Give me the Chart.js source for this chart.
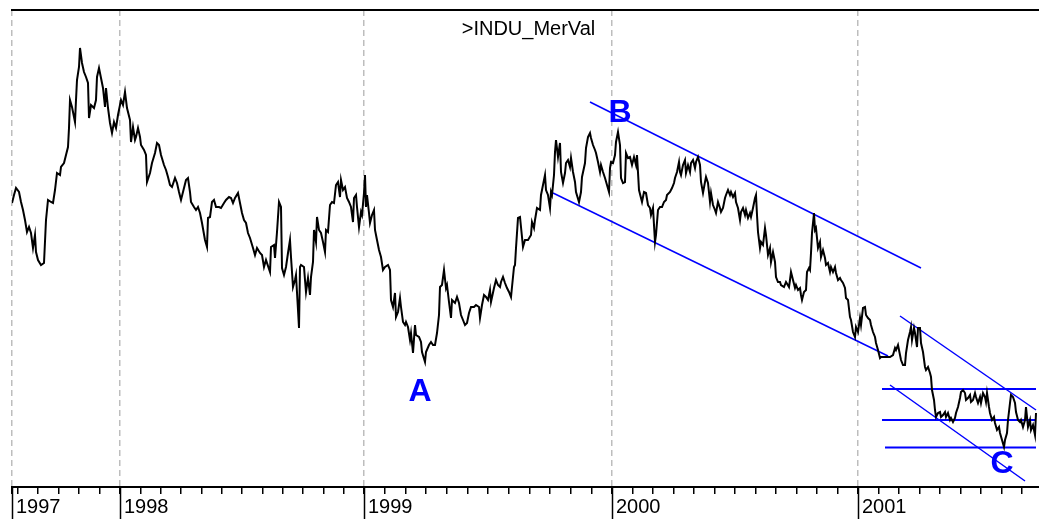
<!DOCTYPE html>
<html>
<head>
<meta charset="utf-8">
<title>INDU / MerVal</title>
<script src="https://cdn.jsdelivr.net/npm/chart.js@4.4.1/dist/chart.umd.min.js"></script>
<style>
  html, body { margin: 0; padding: 0; background: #fff; }
  canvas { display: block; }
</style>
</head>
<body>
<canvas id="ratioChart" width="1039" height="519"></canvas>
<script>
// INDU / MerVal ratio, one point per trading session (session 0 = first bar in 1997)
const chartTitle = '>INDU_MerVal';

const sessions = [
  0, 2, 4, 7, 9, 11, 13, 15, 17, 19, 21, 23, 24, 26, 29, 32, 34, 36, 39, 41,
  43, 45, 48, 49, 52, 54, 56, 57, 58, 60, 63, 64, 65, 67, 68, 70, 72, 74, 76, 77,
  79, 82, 84, 85, 87, 89, 91, 93, 94, 96, 98, 100, 102, 104, 106, 108, 109, 111, 113, 115,
  118, 119, 121, 123, 124, 126, 128, 129, 132, 134, 135, 138, 140, 143, 145, 147, 149, 152, 154, 156,
  158, 160, 163, 165, 167, 169, 172, 174, 176, 178, 179, 182, 184, 186, 188, 190, 193, 195, 196, 198,
  200, 202, 204, 207, 209, 212, 214, 217, 219, 221, 223, 226, 228, 230, 232, 234, 236, 238, 241, 243,
  245, 248, 250, 252, 254, 258, 259, 262, 263, 265, 267, 269, 270, 272, 274, 276, 278, 279, 281, 283,
  284, 286, 287, 288, 289, 292, 293, 294, 296, 298, 299, 301, 302, 304, 305, 307, 309, 311, 313, 314,
  316, 318, 320, 322, 324, 326, 328, 329, 331, 333, 335, 337, 339, 341, 342, 344, 345, 347, 349, 350,
  352, 353, 354, 355, 357, 358, 360, 362, 363, 365, 367, 369, 371, 373, 376, 378, 379, 381, 383, 384,
  386, 388, 389, 391, 393, 394, 396, 398, 399, 401, 403, 404, 407, 409, 410, 413, 414, 417, 419, 421,
  423, 425, 427, 428, 430, 432, 434, 435, 437, 439, 440, 443, 445, 447, 449, 451, 453, 455, 457, 459,
  462, 464, 467, 468, 470, 472, 474, 476, 478, 479, 482, 484, 486, 488, 489, 491, 493, 495, 497, 499,
  500, 502, 503, 504, 506, 508, 509, 511, 513, 516, 519, 520, 522, 523, 525, 528, 529, 531, 533, 534,
  536, 538, 539, 540, 542, 543, 544, 546, 548, 549, 551, 553, 554, 556, 558, 559, 561, 563, 564, 567,
  569, 570, 573, 574, 576, 578, 579, 581, 583, 584, 586, 588, 589, 591, 593, 595, 597, 598, 599, 601,
  603, 604, 606, 608, 609, 611, 613, 614, 616, 618, 620, 622, 624, 625, 627, 629, 630, 632, 634, 636,
  638, 639, 641, 643, 644, 646, 648, 650, 652, 654, 655, 658, 660, 662, 663, 665, 667, 668, 669, 671,
  673, 674, 676, 678, 679, 681, 683, 684, 686, 688, 689, 691, 693, 694, 696, 698, 699, 701, 703, 704,
  706, 708, 709, 711, 713, 714, 716, 718, 719, 721, 723, 724, 726, 728, 729, 731, 733, 734, 736, 738,
  739, 741, 743, 744, 745, 746, 748, 749, 751, 753, 754, 756, 758, 759, 761, 763, 764, 766, 768, 769,
  772, 774, 777, 778, 779, 781, 783, 784, 786, 788, 789, 790, 792, 794, 795, 797, 798, 799, 800, 802,
  803, 804, 806, 808, 809, 811, 813, 814, 816, 818, 819, 821, 823, 824, 826, 828, 829, 831, 833, 834,
  836, 838, 839, 841, 843, 844, 846, 848, 849, 851, 853, 854, 856, 858, 859, 861, 863, 864, 866, 868,
  869, 871, 873, 876, 878, 881, 883, 884, 886, 888, 889, 891, 893, 894, 896, 898, 899, 900, 902, 903,
  905, 906, 908, 909, 911, 913, 914, 916, 918, 919, 920, 922, 923, 924, 926, 928, 929, 931, 933, 934,
  936, 938, 939, 941, 943, 944, 946, 948, 949, 951, 953, 954, 956, 958, 959, 961, 963, 964, 966, 968,
  969, 971, 973, 974, 975, 977, 978, 980, 982, 983, 985, 987, 988, 990, 992, 993, 995, 996, 998, 999,
  1001, 1003, 1004, 1006, 1008, 1009, 1011, 1013, 1014, 1015, 1016, 1018, 1019, 1021, 1023, 1024
];

const ratio = [
  28.4, 29.2, 29.9, 29.5, 28.5, 27.7, 26.7, 25.5, 26.0, 25.4, 23.9, 25.2, 23.5, 22.7, 22.2, 22.4, 26.7, 28.7, 28.5, 28.4,
  29.7, 31.4, 31.2, 32.0, 32.4, 33.2, 34.0, 35.9, 38.7, 38.0, 36.5, 38.7, 40.7, 42.0, 43.9, 42.4, 41.5, 41.0, 40.4, 36.9,
  38.2, 37.9, 38.7, 41.0, 41.9, 40.9, 39.9, 38.0, 39.9, 37.9, 36.4, 35.4, 36.5, 35.9, 37.2, 38.2, 38.7, 38.2, 39.5, 37.9,
  36.7, 34.5, 36.0, 34.7, 35.0, 35.9, 35.0, 34.2, 33.7, 33.2, 30.5, 31.4, 32.4, 33.4, 34.4, 34.2, 33.2, 32.2, 31.7, 31.0,
  30.2, 30.0, 30.9, 30.4, 29.5, 28.7, 29.9, 30.7, 30.9, 29.5, 28.5, 28.0, 27.7, 28.0, 27.4, 26.4, 24.7, 24.0, 26.9, 27.0,
  28.5, 28.7, 28.0, 28.0, 27.9, 28.4, 28.7, 29.0, 28.9, 28.4, 28.9, 29.4, 28.4, 27.4, 26.7, 26.4, 25.4, 24.9, 23.9, 23.2,
  23.9, 23.4, 23.2, 22.0, 22.7, 21.5, 24.0, 24.2, 22.9, 25.5, 28.5, 28.0, 21.9, 21.2, 22.0, 23.4, 24.7, 23.0, 20.0, 20.7,
  21.2, 17.7, 15.9, 22.0, 22.2, 22.0, 20.7, 19.5, 20.9, 19.2, 21.0, 22.5, 25.7, 24.5, 27.0, 25.7, 25.4, 24.5, 23.5, 25.7,
  25.5, 28.2, 28.5, 28.4, 30.2, 30.5, 29.0, 30.7, 29.7, 30.0, 28.9, 28.5, 28.0, 26.5, 28.9, 29.2, 28.0, 26.0, 27.5, 27.2,
  29.4, 31.2, 28.0, 29.2, 27.4, 26.4, 27.2, 27.7, 25.7, 24.7, 23.7, 23.0, 21.7, 22.0, 22.2, 21.7, 18.7, 18.0, 19.4, 17.0,
  17.5, 18.9, 18.0, 16.5, 16.2, 16.5, 16.0, 14.7, 15.4, 13.4, 16.2, 15.2, 15.0, 14.5, 13.5, 12.5, 13.5, 14.2, 14.5, 14.2,
  14.2, 15.4, 17.2, 20.0, 20.2, 21.7, 19.9, 20.2, 18.5, 16.9, 18.7, 18.4, 19.0, 18.4, 17.2, 16.7, 16.2, 16.4, 17.4, 18.0,
  18.0, 18.2, 18.0, 16.9, 18.2, 19.2, 19.0, 18.7, 19.7, 18.5, 19.9, 20.7, 20.2, 20.0, 20.5, 21.0, 20.4, 19.9, 19.5, 19.0,
  20.0, 22.0, 22.2, 23.9, 26.9, 27.0, 26.0, 24.0, 24.7, 24.7, 25.2, 26.5, 25.9, 26.7, 27.9, 27.7, 29.2, 30.2, 31.2, 29.7,
  29.2, 27.9, 29.5, 29.2, 31.2, 33.5, 34.7, 33.0, 34.4, 31.5, 30.4, 31.4, 32.4, 32.7, 32.0, 32.9, 31.5, 30.5, 29.5, 28.5,
  29.5, 31.0, 32.4, 33.9, 35.0, 35.4, 34.9, 34.2, 33.7, 33.4, 32.5, 31.5, 32.2, 31.5, 30.9, 30.2, 29.5, 31.9, 32.5, 32.4,
  33.2, 34.5, 35.5, 34.2, 30.9, 30.4, 30.5, 33.4, 32.9, 33.0, 32.2, 33.0, 32.2, 33.2, 29.7, 28.9, 28.5, 29.5, 29.4, 28.2,
  27.9, 27.2, 27.9, 24.5, 25.2, 27.7, 28.0, 28.0, 28.5, 28.7, 29.2, 29.5, 29.9, 30.4, 30.9, 31.5, 32.5, 31.5, 31.2, 32.2,
  32.7, 31.4, 32.2, 31.5, 32.4, 32.7, 31.9, 32.5, 33.0, 32.2, 30.5, 29.4, 30.5, 31.0, 30.4, 28.5, 29.4, 28.2, 27.7, 27.4,
  28.5, 27.9, 27.5, 27.9, 28.9, 29.2, 29.7, 29.2, 29.5, 29.0, 29.4, 28.5, 27.9, 26.7, 27.5, 27.9, 27.2, 27.7, 26.9, 27.4,
  27.0, 27.9, 28.9, 29.2, 27.2, 25.5, 23.9, 24.5, 24.2, 25.9, 25.2, 23.2, 23.9, 22.5, 23.5, 22.5, 21.0, 20.5, 20.5, 20.2,
  20.0, 20.5, 20.0, 20.7, 21.5, 20.7, 19.9, 20.2, 19.7, 19.9, 19.2, 18.7, 19.5, 19.7, 21.5, 21.9, 21.7, 23.4, 25.4, 27.4,
  25.7, 25.9, 23.9, 24.5, 23.0, 23.7, 22.9, 22.2, 22.4, 21.5, 22.0, 21.5, 22.0, 21.4, 20.7, 20.9, 20.7, 20.4, 19.9, 18.9,
  18.7, 17.0, 16.7, 15.5, 15.0, 16.0, 15.5, 16.9, 16.2, 17.9, 18.0, 17.2, 16.9, 16.7, 16.2, 15.5, 15.0, 14.4, 13.7, 12.9,
  13.0, 13.0, 13.0, 13.0, 13.0, 13.2, 13.9, 13.7, 14.2, 13.2, 12.7, 12.2, 12.2, 13.4, 14.7, 15.5, 16.0, 14.7, 15.9, 15.4,
  14.0, 15.9, 15.9, 14.4, 13.5, 12.0, 11.7, 12.0, 11.4, 11.0, 9.7, 8.7, 7.7, 7.0, 7.4, 7.5, 7.0, 7.2, 7.5, 7.0,
  7.4, 6.7, 6.9, 6.5, 6.9, 7.4, 8.0, 8.9, 9.5, 9.7, 9.4, 8.7, 8.9, 9.2, 8.5, 8.7, 9.4, 9.0, 8.4, 9.0,
  8.4, 9.4, 9.0, 8.5, 9.4, 8.0, 7.4, 6.7, 7.0, 6.4, 5.7, 6.0, 5.4, 4.7, 4.0, 4.7, 5.4, 6.7, 8.4, 9.2,
  9.0, 8.4, 7.5, 6.7, 6.5, 6.7, 6.0, 6.7, 8.0, 7.0, 6.0, 6.7, 5.7, 6.2, 5.2, 7.4
];

// axis: first session of each year (1997 = start of the data)
const yearTicks = [0, 108, 352, 600, 846];
const yearLabels = ['1997', '1998', '1999', '2000', '2001'];
const xMax = 1027;
const yMin = 0;
const yMax = 47.7;

// trend channels drawn on the chart, [session, ratio]
const channelUpper = [[578, 38.5], [909, 21.9]];
const channelLower = [[541, 29.4], [876, 13.1]];
const wedgeUpper = [[888, 17.1], [1024, 7.7]];
const wedgeLower = [[878, 10.2], [1013, 0.6]];
const levelValues = [9.8, 6.7, 3.95];
const levelStarts = [870, 870, 873];
const levelEnd = 1024;

// wave labels
const waveLabels = ['A', 'B', 'C'];
const waveSessions = [408, 608, 990];
const waveRatio = [9.45, 37.4, 2.3];

// month ticks between the year ticks
const monthTicks = [];
for (let k = 5; k >= 1; k--) monthTicks.push(yearTicks[1] - k * 20.5);
for (let i = 1; i < yearTicks.length - 1; i++) {
  const a = yearTicks[i], b = yearTicks[i + 1];
  for (let k = 1; k < 12; k++) monthTicks.push(a + k * (b - a) / 12);
}
for (let k = 1; yearTicks[4] + k * 20.5 <= xMax; k++) monthTicks.push(yearTicks[4] + k * 20.5);
const axisTicks = yearTicks.concat(monthTicks).sort((a, b) => a - b);

function isYearTick(ctx) {
  return ctx.tick && yearTicks.includes(ctx.tick.value);
}

function segment(points) {
  return points.map(([x, y]) => ({ x, y }));
}

function blueLine(points, width) {
  return {
    data: segment(points),
    borderColor: '#0000ff',
    borderWidth: width,
    pointRadius: 0,
    fill: false
  };
}

const datasets = [
  {
    data: sessions.map((s, i) => ({ x: s, y: ratio[i] })),
    borderColor: '#000',
    borderWidth: 2,
    pointRadius: 0,
    fill: false
  },
  blueLine(channelUpper, 1.5),
  blueLine(channelLower, 1.5),
  blueLine(wedgeUpper, 1.5),
  blueLine(wedgeLower, 1.5)
];
levelValues.forEach((v, i) => {
  datasets.push(blueLine([[levelStarts[i], v], [levelEnd, v]], 2));
});

// title, wave letters and the long year marks under the axis
const overlayText = {
  id: 'overlayText',
  afterDraw(chart) {
    const { ctx, chartArea, scales } = chart;
    ctx.save();
    ctx.textAlign = 'center';
    ctx.textBaseline = 'middle';
    ctx.fillStyle = '#000';
    ctx.font = '20px "Liberation Sans", Arial, sans-serif';
    ctx.fillText(chartTitle, (chartArea.left + chartArea.right) / 2 + 3, chartArea.top + 19);

    ctx.fillStyle = '#0000ff';
    ctx.font = 'bold 32px "Liberation Sans", Arial, sans-serif';
    waveLabels.forEach((label, i) => {
      ctx.fillText(label, scales.x.getPixelForValue(waveSessions[i]), scales.y.getPixelForValue(waveRatio[i]));
    });

    ctx.strokeStyle = '#000';
    ctx.lineWidth = 1.5;
    yearTicks.forEach(v => {
      const px = Math.round(scales.x.getPixelForValue(v)) + 0.5;
      ctx.beginPath();
      ctx.moveTo(px, chartArea.bottom);
      ctx.lineTo(px, chart.height);
      ctx.stroke();
    });
    ctx.restore();
  }
};

new Chart(document.getElementById('ratioChart'), {
  type: 'line',
  data: { datasets },
  plugins: [overlayText],
  options: {
    responsive: false,
    animation: false,
    layout: { padding: { left: 12, top: 10, right: 0, bottom: 0 } },
    plugins: {
      legend: { display: false },
      tooltip: { enabled: false }
    },
    scales: {
      x: {
        type: 'linear',
        position: 'bottom',
        min: 0,
        max: xMax,
        afterBuildTicks: (scale) => {
          scale.ticks = axisTicks.map(v => ({ value: v }));
        },
        grid: {
          color: (ctx) => isYearTick(ctx) ? '#bdbdbd' : 'rgba(0,0,0,0)',
          lineWidth: 1.5,
          tickLength: 8,
          tickColor: '#000',
          tickWidth: 1.5,
          tickBorderDash: [6, 100]
        },
        border: { display: true, color: '#000', width: 2, dash: [6, 4] },
        ticks: {
          autoSkip: false,
          maxRotation: 0,
          minRotation: 0,
          align: 'start',
          labelOffset: 4,
          padding: 0,
          color: '#000',
          font: { family: '"Liberation Sans", Arial, sans-serif', size: 20 },
          callback: (value) => {
            const i = yearTicks.indexOf(value);
            return i >= 0 ? yearLabels[i] : '';
          }
        }
      },
      xTop: {
        type: 'linear',
        position: 'top',
        min: 0,
        max: xMax,
        grid: { display: false, drawTicks: false },
        ticks: { display: false },
        border: { display: true, color: '#000', width: 2 }
      },
      y: {
        display: false,
        min: yMin,
        max: yMax
      }
    }
  }
});
</script>
</body>
</html>
